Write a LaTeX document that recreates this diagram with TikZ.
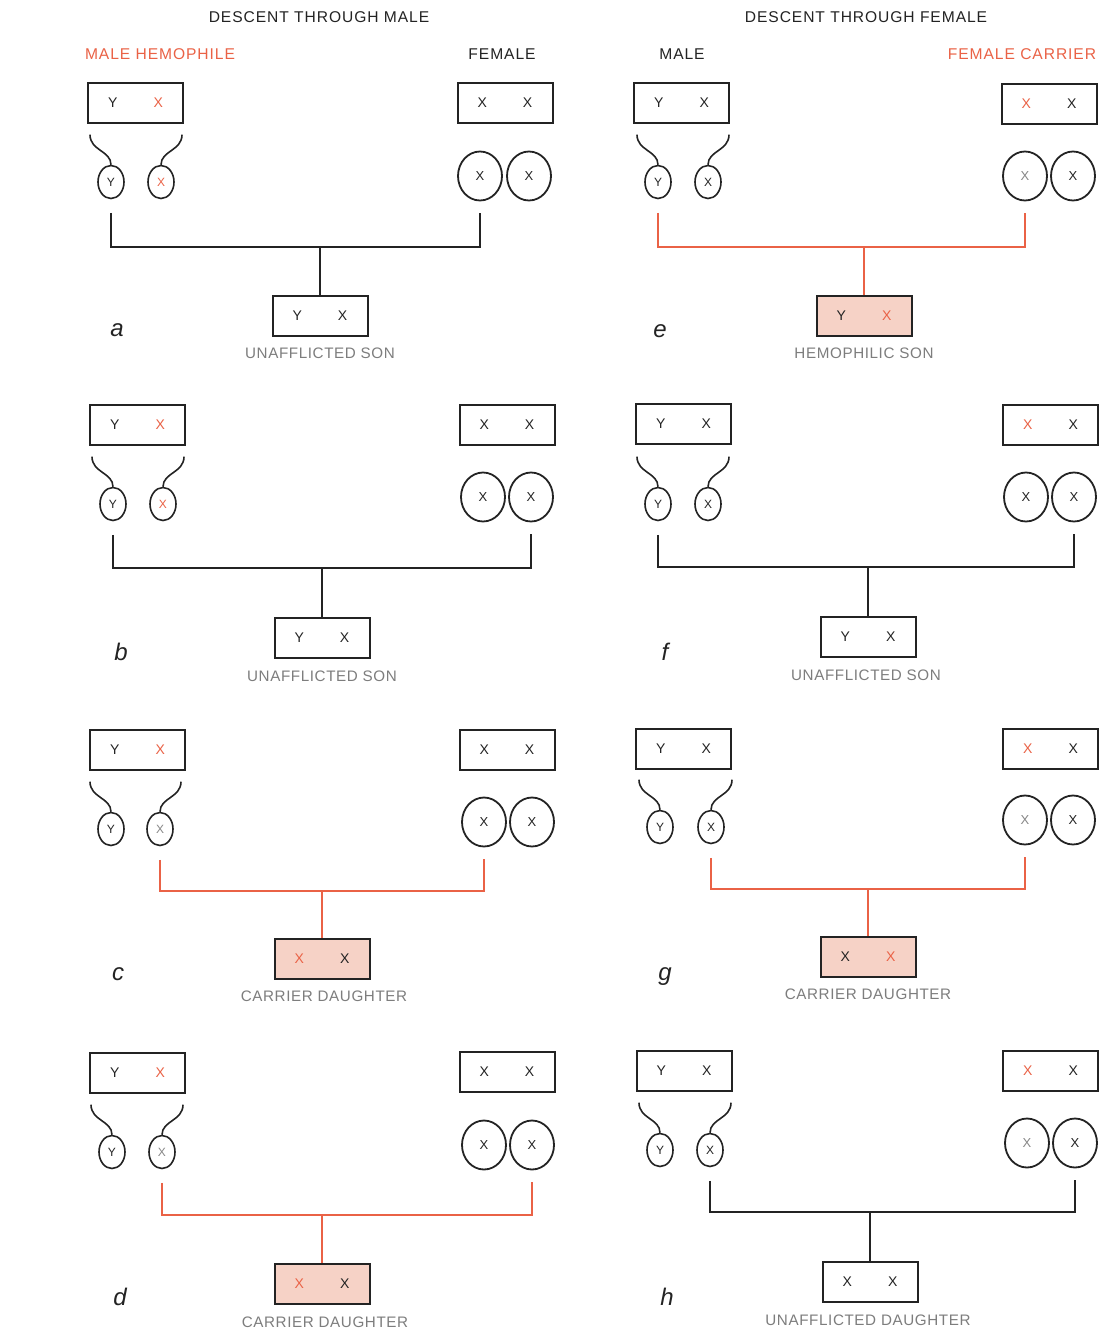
\documentclass[tikz,border=0pt]{standalone}
\usepackage{fontspec}
\setmainfont{Liberation Sans}
\newfontfamily\lsA{Liberation Sans}[LetterSpace=6]
\newfontfamily\lsB{Liberation Sans}[LetterSpace=4]
\usetikzlibrary{shapes.geometric}
\definecolor{hred}{RGB}{234,98,70}
\definecolor{hpink}{RGB}{246,210,198}
\definecolor{lgray}{RGB}{125,125,125}
\definecolor{xgray}{RGB}{135,135,135}
\definecolor{ink}{RGB}{35,35,35}
\newcommand\RX{{\color{hred}X}}
\newcommand\GX{{\color{xgray}X}}
\newcommand\tails[2]{%
  \draw[tail] (#1.north) .. controls +(0,-14) and +(0,16) .. +(-21,-30);
  \draw[tail] (#2.north) .. controls +(0,-14) and +(0,16) .. +(21,-30);}
\newcommand\pair[2]{#1\hspace{18pt}#2}
\tikzset{
  mbox/.style={draw=ink, line width=1pt, minimum width=47.5pt, minimum height=20pt,
    inner sep=0pt, text=ink, font=\fontsize{7}{8}\selectfont},
  cbox/.style={mbox, fill=hpink},
  sperm/.style={ellipse, draw=ink, line width=0.8pt, minimum width=13pt,
    minimum height=16.5pt, inner sep=0pt, text=ink, font=\fontsize{6}{7}\selectfont},
  egg/.style={ellipse, draw=ink, line width=0.9pt, minimum width=22pt,
    minimum height=24.5pt, inner sep=0pt, text=ink, font=\fontsize{6.5}{7}\selectfont},
  tail/.style={draw=ink, line width=0.8pt},
  conn/.style={line width=1pt, draw=ink, line join=miter},
  rconn/.style={line width=1pt, draw=hred, line join=miter},
  ttl/.style={font=\lsA\fontsize{7.8}{9}\selectfont, inner sep=0pt, text=ink},
  lab/.style={font=\lsB\fontsize{7.6}{9}\selectfont, text=lgray, inner sep=0pt},
  plet/.style={font=\normalfont\itshape\fontsize{12}{14}\selectfont, inner sep=0pt, anchor=base, text=ink},
}
\begin{document}
\begin{tikzpicture}[x=0.5pt,y=-0.5pt]
\useasboundingbox (0,0) rectangle (1099,1339);
\fill[white] (0,0) rectangle (1099,1339);

% ---------- headings ----------
\node[ttl] (t1) at (319,17) {DESCENT THROUGH MALE};
\node[ttl] (t2) at (866,17) {DESCENT THROUGH FEMALE};
\node[ttl,text=hred] (h1) at (160,54) {MALE HEMOPHILE};
\node[ttl] (h2) at (502,54) {FEMALE};
\node[ttl] (h3) at (682,54) {MALE};
\node[ttl,text=hred] (h4) at (1022,54) {FEMALE CARRIER};

% ---------- panel a ----------
\node[mbox] (aM) at (135.5,103) {\pair{Y}{\RX}};
\node[mbox] (aF) at (505,103) {\pair{X}{X}};
\node[sperm] (aS1) at (111,182) {Y};
\node[sperm] (aS2) at (161,182) {\RX};
\tails{aS1}{aS2}
\node[egg] (aE1) at (480,176) {X};
\node[egg] (aE2) at (529,176) {X};
\node[mbox] (aC) at (320,316) {\pair{Y}{X}};
\coordinate (aH) at (320,247);
\draw[conn] ([yshift=-6.75pt]aS1.south) -- (aS1.south |- aH) -- (aE1.south |- aH) -- ([yshift=-5.75pt]aE1.south);
\draw[conn] (aH) -- (aC.north);
\node[lab] (aL) at (320,353) {UNAFFLICTED SON};
\node[plet] (aP) at (117,336) {a};

% ---------- panel b ----------
\node[mbox] (bM) at (137.5,425) {\pair{Y}{\RX}};
\node[mbox] (bF) at (507,425) {\pair{X}{X}};
\node[sperm] (bS1) at (113,504) {Y};
\node[sperm] (bS2) at (163,504) {\RX};
\tails{bS1}{bS2}
\node[egg] (bE1) at (483,497) {X};
\node[egg] (bE2) at (531,497) {X};
\node[mbox] (bC) at (322,638) {\pair{Y}{X}};
\coordinate (bH) at (322,568);
\draw[conn] ([yshift=-6.75pt]bS1.south) -- (bS1.south |- bH) -- (bE2.south |- bH) -- ([yshift=-5.75pt]bE2.south);
\draw[conn] (bH) -- (bC.north);
\node[lab] (bL) at (322,676) {UNAFFLICTED SON};
\node[plet] (bP) at (121,660) {b};

% ---------- panel c ----------
\node[mbox] (cM) at (137.5,750) {\pair{Y}{\RX}};
\node[mbox] (cF) at (507,750) {\pair{X}{X}};
\node[sperm] (cS1) at (111,829) {Y};
\node[sperm] (cS2) at (160,829) {\GX};
\tails{cS1}{cS2}
\node[egg] (cE1) at (484,822) {X};
\node[egg] (cE2) at (532,822) {X};
\node[cbox] (cC) at (322,959) {\pair{\RX}{X}};
\coordinate (cH) at (322,891);
\draw[rconn] ([yshift=-6.75pt]cS2.south) -- (cS2.south |- cH) -- (cE1.south |- cH) -- ([yshift=-5.75pt]cE1.south);
\draw[rconn] (cH) -- (cC.north);
\node[lab] (cL) at (324,996) {CARRIER DAUGHTER};
\node[plet] (cP) at (118,980) {c};

% ---------- panel d ----------
\node[mbox] (dM) at (137.5,1073) {\pair{Y}{\RX}};
\node[mbox] (dF) at (507,1072) {\pair{X}{X}};
\node[sperm] (dS1) at (112,1152) {Y};
\node[sperm] (dS2) at (162,1152) {\GX};
\tails{dS1}{dS2}
\node[egg] (dE1) at (484,1145) {X};
\node[egg] (dE2) at (532,1145) {X};
\node[cbox] (dC) at (322,1284) {\pair{\RX}{X}};
\coordinate (dH) at (322,1215);
\draw[rconn] ([yshift=-6.75pt]dS2.south) -- (dS2.south |- dH) -- (dE2.south |- dH) -- ([yshift=-5.75pt]dE2.south);
\draw[rconn] (dH) -- (dC.north);
\node[lab] (dL) at (325,1322) {CARRIER DAUGHTER};
\node[plet] (dP) at (120,1305) {d};

% ---------- panel e ----------
\node[mbox] (eM) at (681.5,103) {\pair{Y}{X}};
\node[mbox] (eF) at (1049,103.5) {\pair{\RX}{X}};
\node[sperm] (eS1) at (658,182) {Y};
\node[sperm] (eS2) at (708,182) {X};
\tails{eS1}{eS2}
\node[egg] (eE1) at (1025,176) {\GX};
\node[egg] (eE2) at (1073,176) {X};
\node[cbox] (eC) at (864,316) {\pair{Y}{\RX}};
\coordinate (eH) at (864,247);
\draw[rconn] ([yshift=-6.75pt]eS1.south) -- (eS1.south |- eH) -- (eE1.south |- eH) -- ([yshift=-5.75pt]eE1.south);
\draw[rconn] (eH) -- (eC.north);
\node[lab] (eL) at (864,353) {HEMOPHILIC SON};
\node[plet] (eP) at (660,337) {e};

% ---------- panel f ----------
\node[mbox] (fM) at (683.5,424) {\pair{Y}{X}};
\node[mbox] (fF) at (1050.5,424.5) {\pair{\RX}{X}};
\node[sperm] (fS1) at (658,504) {Y};
\node[sperm] (fS2) at (708,504) {X};
\tails{fS1}{fS2}
\node[egg] (fE1) at (1026,497) {X};
\node[egg] (fE2) at (1074,497) {X};
\node[mbox] (fC) at (868,637) {\pair{Y}{X}};
\coordinate (fH) at (868,567);
\draw[conn] ([yshift=-6.75pt]fS1.south) -- (fS1.south |- fH) -- (fE2.south |- fH) -- ([yshift=-5.75pt]fE2.south);
\draw[conn] (fH) -- (fC.north);
\node[lab] (fL) at (866,675) {UNAFFLICTED SON};
\node[plet] (fP) at (665,660) {f};

% ---------- panel g ----------
\node[mbox] (gM) at (683.5,749) {\pair{Y}{X}};
\node[mbox] (gF) at (1050.5,749) {\pair{\RX}{X}};
\node[sperm] (gS1) at (660,827) {Y};
\node[sperm] (gS2) at (711,827) {X};
\tails{gS1}{gS2}
\node[egg] (gE1) at (1025,820) {\GX};
\node[egg] (gE2) at (1073,820) {X};
\node[cbox] (gC) at (868,957) {\pair{X}{\RX}};
\coordinate (gH) at (868,889);
\draw[rconn] ([yshift=-6.75pt]gS2.south) -- (gS2.south |- gH) -- (gE1.south |- gH) -- ([yshift=-5.75pt]gE1.south);
\draw[rconn] (gH) -- (gC.north);
\node[lab] (gL) at (868,994) {CARRIER DAUGHTER};
\node[plet] (gP) at (665,980) {g};

% ---------- panel h ----------
\node[mbox] (hM) at (684,1071) {\pair{Y}{X}};
\node[mbox] (hF) at (1050.5,1070.5) {\pair{\RX}{X}};
\node[sperm] (hS1) at (660,1150) {Y};
\node[sperm] (hS2) at (710,1150) {X};
\tails{hS1}{hS2}
\node[egg] (hE1) at (1027,1143) {\GX};
\node[egg] (hE2) at (1075,1143) {X};
\node[mbox] (hC) at (870,1281.5) {\pair{X}{X}};
\coordinate (hH) at (870,1212);
\draw[conn] ([yshift=-6.75pt]hS2.south) -- (hS2.south |- hH) -- (hE2.south |- hH) -- ([yshift=-5.75pt]hE2.south);
\draw[conn] (hH) -- (hC.north);
\node[lab] (hL) at (868,1320) {UNAFFLICTED DAUGHTER};
\node[plet] (hP) at (667,1305) {h};
\end{tikzpicture}
\end{document}
